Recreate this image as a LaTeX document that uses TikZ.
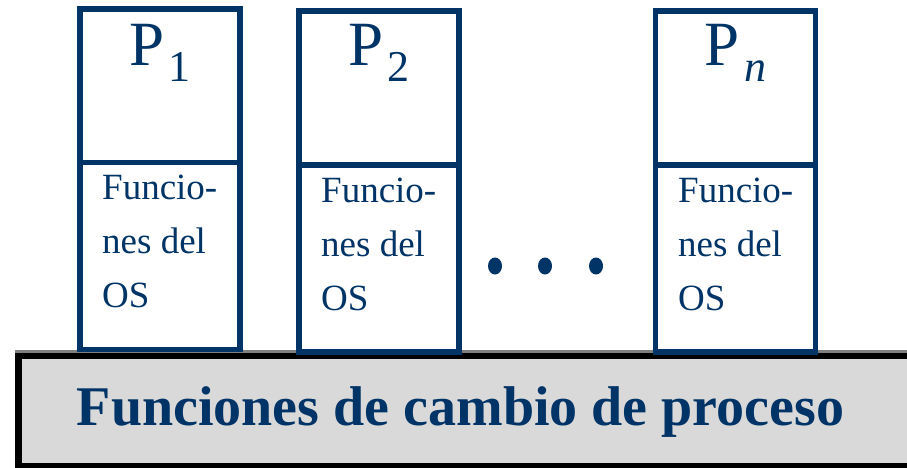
\documentclass[tikz,border=0pt]{standalone}
\usepackage{fontspec}
\setmainfont{Liberation Serif}
\usetikzlibrary{positioning}
\definecolor{osblue}{RGB}{0,51,102}

\newcommand{\psub}[1]{\hspace{4pt}\raisebox{-16pt}{\fontsize{44}{44}\selectfont #1}}

\begin{document}
\begin{tikzpicture}
	[x=1pt,y=-1pt,
	proc top/.style={shape=rectangle,draw=osblue,line width=5.5pt,fill=white,minimum width=160pt,minimum height=154pt,inner sep=0pt},
	proc os/.style={shape=rectangle,draw=osblue,line width=5.5pt,fill=white,minimum width=160pt,minimum height=187pt,inner sep=0pt},
	pname/.style={text=osblue,font=\fontsize{63}{63}\selectfont,anchor=base,inner sep=0pt},
	os text/.style={text=osblue,font=\fontsize{37}{54}\selectfont,align=left,anchor=base west,inner sep=0pt},
	bar text/.style={text=osblue,font=\bfseries\fontsize{56}{56}\selectfont,anchor=base,inner sep=0pt}]
	\clip (0,0) rectangle (907,468);

	% barra de cambio de proceso
	\draw[gray,line width=3pt] (15,351) -- (907,351);
	\draw[black,line width=6.5pt,fill=black!15] (18.5,356) rectangle (925,466);
	\node [bar text] (cambio) at (460.5,425) {Funciones de cambio de proceso};

	% procesos
	\node [proc top] (p1) at (160,86) {};
	\node [proc os] (f1) at (160,256) {};
	\node [pname] (p1l) at (160,66) {P\psub{1}};
	\node [os text] (f1l) at (102,307) {Funcio-\\nes del\\OS};

	\node [proc top] (p2) at (379,88) {};
	\node [proc os] (f2) at (379,258.5) {};
	\node [pname] (p2l) at (379,66) {P\psub{2}};
	\node [os text] (f2l) at (321,310) {Funcio-\\nes del\\OS};

	\node [proc top] (pn) at (735.5,88) {};
	\node [proc os] (fn) at (735.5,258.5) {};
	\node [pname] (pnl) at (735.5,66) {P\psub{\textit{n}}};
	\node [os text] (fnl) at (678,310) {Funcio-\\nes del\\OS};

	% puntos
	\fill[osblue] (495,266) ellipse (7 and 8.5);
	\fill[osblue] (545,266) ellipse (7 and 8.5);
	\fill[osblue] (596,266) ellipse (7 and 8.5);
\end{tikzpicture}
\end{document}
